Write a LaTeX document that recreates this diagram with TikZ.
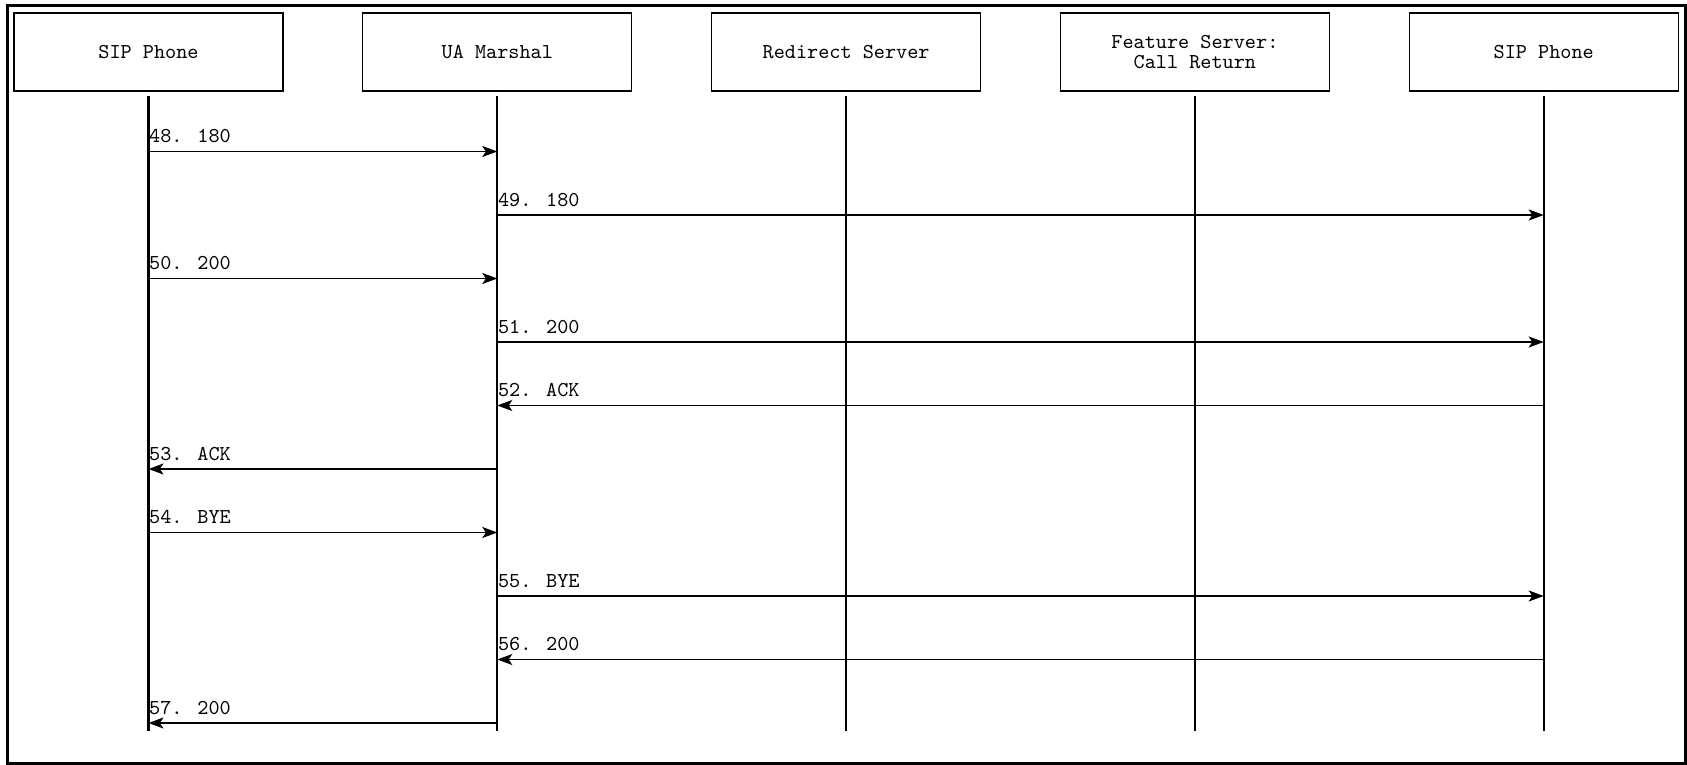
\documentclass[tikz,border=0pt]{standalone}
\usepackage{fontspec}
\usepackage{tikz}
\usetikzlibrary{positioning,arrows.meta}
\tikzset{
  node-box/.style={draw,line width=0.6pt,minimum width=134.5pt,
    minimum height=39pt,outer sep=0pt,inner sep=2pt,align=center},
  lifeline/.style={line width=1.1pt},
  % both message arrows are drawn left to right, the tip says the direction
  arrow-r/.style={-{Stealth[length=7.5pt,width=5.5pt,inset=1.8pt]},line width=0.7pt},
  arrow-l/.style={{Stealth[length=7.5pt,width=5.5pt,inset=1.8pt]}-,line width=0.7pt},
  msg-label/.style={anchor=base west,inner sep=0pt,yshift=4.4pt},
  frame/.style={line width=1.5pt},
}

\begin{document}
\begin{tikzpicture}[node distance=39.9pt,font=\ttfamily\fontsize{10.6}{10.2}\selectfont]
  \useasboundingbox (0,0) rectangle (843.5pt,-382.5pt);
  \draw[frame] (3.75pt,-2.75pt) rectangle (842.5pt,-381.5pt);

  \node[node-box] (p1) at (74.25pt,-26pt) {SIP Phone};
  \node[node-box,right=of p1] (ua) {UA Marshal};
  \node[node-box,right=of ua] (rs) {Redirect Server};
  \node[node-box,right=of rs] (fs) {Feature Server:\\Call Return};
  \node[node-box,right=of fs] (p2) {SIP Phone};

  % lifelines
  \coordinate (bottom) at (0,-365.3pt);
  \foreach \n in {p1,ua,rs,fs,p2}
    \draw[lifeline] ([yshift=-2.5pt]\n.south) -- (\n |- bottom);

  % messages 48..57
  \foreach \i/\l/\r/\dir/\txt in {0/p1/ua/arrow-r/180, 1/ua/p2/arrow-r/180,
      2/p1/ua/arrow-r/200, 3/ua/p2/arrow-r/200, 4/ua/p2/arrow-l/ACK,
      5/p1/ua/arrow-l/ACK, 6/p1/ua/arrow-r/BYE, 7/ua/p2/arrow-r/BYE,
      8/ua/p2/arrow-l/200, 9/p1/ua/arrow-l/200}{
    \pgfmathtruncatemacro{\num}{48+\i}
    \coordinate (m\num) at (0,{-75.75pt-31.75pt*\i});
    \draw[\dir] (\l |- m\num) -- node[msg-label,pos=0] (l\num) {\num. \txt} (\r |- m\num);
  }
\end{tikzpicture}
\end{document}
